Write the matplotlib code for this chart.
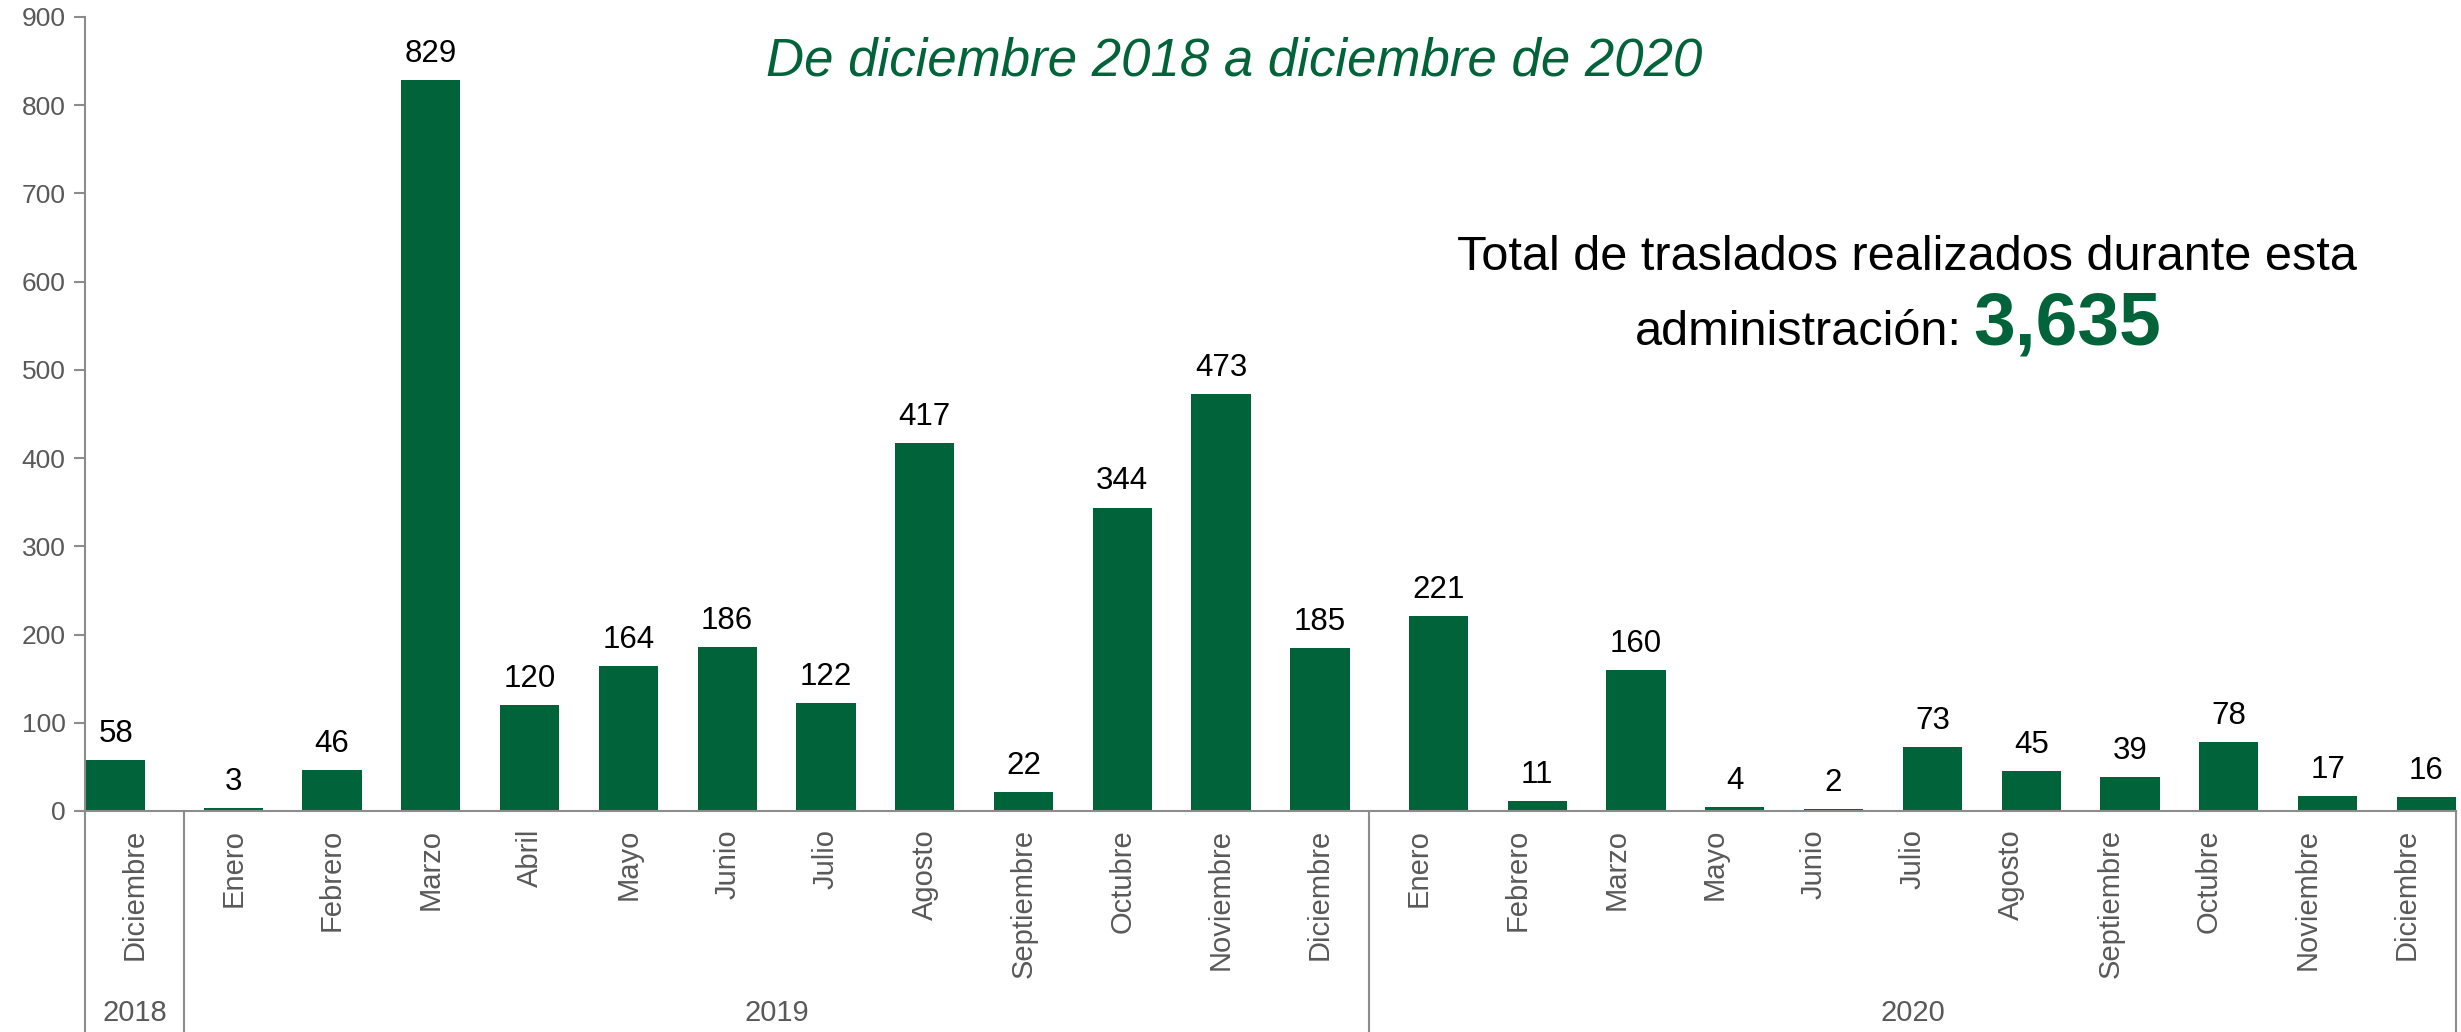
import matplotlib.pyplot as plt
import matplotlib.transforms as mtransforms
import numpy as np

plt.rcParams["font.family"] = ["Liberation Sans", "DejaVu Sans"]

years = ["2018", "2019", "2020"]
months_2018 = ["Diciembre"]
months_2019 = ["Enero", "Febrero", "Marzo", "Abril", "Mayo", "Junio", "Julio",
               "Agosto", "Septiembre", "Octubre", "Noviembre", "Diciembre"]
months_2020 = ["Enero", "Febrero", "Marzo", "Mayo", "Junio", "Julio", "Agosto",
               "Septiembre", "Octubre", "Noviembre", "Diciembre"]
values_2018 = [58]
values_2019 = [3, 46, 829, 120, 164, 186, 122, 417, 22, 344, 473, 185]
values_2020 = [221, 11, 160, 4, 2, 73, 45, 39, 78, 17, 16]
total = "3,635"

green = "#006339"
gray_txt = "#595959"
gray_line = "#8c8c8c"

fig = plt.figure(figsize=(24.61, 10.32), dpi=100)
ax = fig.add_axes([85 / 2461, 221 / 1032, (2456 - 85) / 2461, (811 - 17) / 1032])

groups = [(months_2018, values_2018, -0.19), (months_2019, values_2019, 0.0),
          (months_2020, values_2020, 0.2)]
labels = []
start = 0
bounds = [-0.5]
for months, vals, off in groups:
    x = np.arange(start, start + len(vals))
    ax.bar(x + off, vals, width=0.6, color=green)
    for xi, v in zip(x, vals):
        ax.annotate(str(v), (xi + off, v), xytext=(0, 13), textcoords="offset points",
                    ha="center", va="baseline", fontsize=22.5, color="black")
    labels += months
    start += len(vals)
    bounds.append(start - 0.5)

ax.set_xlim(-0.5, start - 0.5)
ax.set_ylim(0, 900)
ax.set_yticks(range(0, 901, 100))
ax.set_xticks(range(start))
ax.set_xticklabels(labels, rotation=90, va="top", ha="center")
ax.tick_params(axis="x", length=0, pad=13, labelsize=21, labelcolor=gray_txt)
ax.tick_params(axis="y", length=8, width=1.5, color=gray_line, labelsize=19,
               labelcolor=gray_txt, pad=6)
for s in ["top", "right"]:
    ax.spines[s].set_visible(False)
for s in ["left", "bottom"]:
    ax.spines[s].set_color(gray_line)
    ax.spines[s].set_linewidth(1.5)
ax.patch.set_alpha(0)

# group separators and year labels below the axis
trans = mtransforms.blended_transform_factory(ax.transData, fig.transFigure)
ybot = 221 / 1032
for b in bounds:
    ax.plot([b, b], [0, ybot], transform=trans, color=gray_line, lw=1.5,
            clip_on=False)
for i, yr in enumerate(years):
    xc = (bounds[i] + bounds[i + 1]) / 2
    ax.text(xc, 19 / 1032, yr, transform=trans, ha="center", va="center",
            fontsize=21, color=gray_txt)

fig.text(0.5013, 0.927, "De diciembre 2018 a diciembre de 2020", ha="center",
         va="baseline", fontsize=38, style="italic", color=green)
fig.text(0.775, 0.738, "Total de traslados realizados durante esta", ha="center",
         va="baseline", fontsize=35, color="black")
fig.text(0.797, 0.6657, "administración:", ha="right", va="baseline",
         fontsize=35, color="black")
fig.text(0.8017, 0.6657, total, ha="left", va="baseline", fontsize=54,
         fontweight="bold", color=green)

fig.savefig("out.png", dpi=100, facecolor="white")
